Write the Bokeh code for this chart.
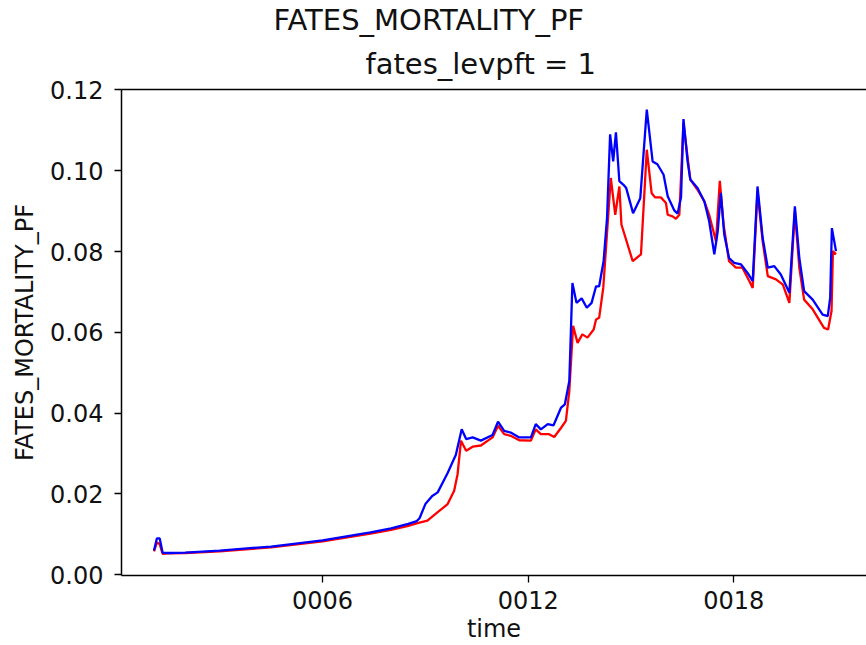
from bokeh.plotting import figure
from bokeh.models import Range1d, FixedTicker, LinearAxis, Title
from bokeh.embed import file_html
from bokeh.resources import INLINE

# time in model years (decimal), FATES_MORTALITY_PF for fates_levpft = 1
time_red = [1.083, 1.167, 1.25, 1.333, 1.5, 2.0, 3.0, 4.5, 6.0, 7.4, 8.0, 8.5, 8.77,
            9.06, 9.36, 9.65, 9.84, 9.94, 10.04, 10.19, 10.38, 10.62, 10.96, 11.12,
            11.3, 11.49, 11.74, 12.08, 12.22, 12.37, 12.61, 12.76, 12.96, 13.1, 13.2,
            13.31, 13.44, 13.58, 13.73, 13.91, 13.98, 14.07, 14.19, 14.41, 14.54,
            14.66, 14.72, 15.05, 15.29, 15.46, 15.6, 15.7, 15.87, 16.02, 16.07, 16.21,
            16.31, 16.41, 16.53, 16.73, 16.94, 17.14, 17.28, 17.48, 17.59, 17.7, 17.86,
            18.06, 18.25, 18.45, 18.55, 18.69, 18.84, 18.99, 19.23, 19.43, 19.62, 19.78,
            19.91, 20.05, 20.3, 20.63, 20.75, 20.85, 20.89, 20.98]
mort_red = [0.0058, 0.0080, 0.0076, 0.0052, 0.0053, 0.0054, 0.0058, 0.0068, 0.0083,
            0.0102, 0.0111, 0.0121, 0.0128, 0.0134, 0.0155, 0.0175, 0.0208, 0.0249,
            0.0332, 0.0307, 0.0317, 0.0320, 0.0340, 0.0369, 0.0348, 0.0344, 0.0333,
            0.0332, 0.0360, 0.0348, 0.0348, 0.0341, 0.0364, 0.0381, 0.0455, 0.0616,
            0.0574, 0.0595, 0.0587, 0.0607, 0.0632, 0.0636, 0.0710, 0.0982, 0.0891,
            0.0961, 0.0867, 0.0776, 0.0793, 0.1052, 0.0945, 0.0934, 0.0934, 0.0920,
            0.0891, 0.0887, 0.0881, 0.0891, 0.1118, 0.0978, 0.0953, 0.0924, 0.0891,
            0.0825, 0.0975, 0.0867, 0.0776, 0.0760, 0.0760, 0.0727, 0.0710, 0.0949,
            0.0825, 0.0739, 0.0731, 0.0718, 0.0673, 0.0900, 0.0760, 0.0681, 0.0657,
            0.0611, 0.0607, 0.0653, 0.0801, 0.0793]

time_blue = [1.083, 1.167, 1.25, 1.333, 1.5, 2.0, 3.0, 4.5, 6.0, 7.4, 8.0, 8.5, 8.75,
             8.83, 9.0, 9.2, 9.36, 9.65, 9.89, 10.06, 10.19, 10.38, 10.62, 10.96, 11.12,
             11.3, 11.49, 11.74, 12.08, 12.22, 12.37, 12.57, 12.74, 12.96, 13.07, 13.2,
             13.29, 13.41, 13.56, 13.71, 13.85, 13.98, 14.07, 14.2, 14.3, 14.39, 14.48,
             14.56, 14.66, 14.78, 14.86, 15.06, 15.27, 15.46, 15.63, 15.77, 15.95, 16.07,
             16.26, 16.36, 16.46, 16.53, 16.65, 16.73, 16.94, 17.14, 17.28, 17.43, 17.53,
             17.62, 17.72, 17.86, 18.01, 18.21, 18.4, 18.55, 18.69, 18.84, 18.99, 19.18,
             19.37, 19.62, 19.78, 19.91, 20.05, 20.3, 20.59, 20.74, 20.81, 20.86, 20.98]
mort_blue = [0.0060, 0.0090, 0.0090, 0.0055, 0.0054, 0.0055, 0.0060, 0.0070, 0.0085,
             0.0105, 0.0115, 0.0126, 0.0133, 0.0140, 0.0175, 0.0195, 0.0204, 0.0252,
             0.0297, 0.0360, 0.0336, 0.0340, 0.0332, 0.0346, 0.0379, 0.0356, 0.0352,
             0.0340, 0.0340, 0.0373, 0.0360, 0.0373, 0.0370, 0.0414, 0.0422, 0.0480,
             0.0722, 0.0673, 0.0684, 0.0661, 0.0673, 0.0714, 0.0714, 0.0776, 0.0883,
             0.1090, 0.1023, 0.1095, 0.0974, 0.0965, 0.0957, 0.0895, 0.0932, 0.1151,
             0.1023, 0.1016, 0.0990, 0.0937, 0.0902, 0.0894, 0.0935, 0.1128, 0.1023,
             0.0978, 0.0957, 0.0924, 0.0875, 0.0793, 0.0850, 0.0945, 0.0842, 0.0784,
             0.0772, 0.0768, 0.0747, 0.0727, 0.0961, 0.0834, 0.0760, 0.0764, 0.0743,
             0.0698, 0.0912, 0.0784, 0.0702, 0.0681, 0.0644, 0.0640, 0.0685, 0.0858,
             0.0801]

x_ticks = [6, 12, 18]
x_tick_labels = ["0006", "0012", "0018"]
y_ticks = [0.0, 0.02, 0.04, 0.06, 0.08, 0.10, 0.12]
y_tick_labels = ["0.00", "0.02", "0.04", "0.06", "0.08", "0.10", "0.12"]

FONT = "DejaVu Sans"
TXT = "#111111"

p = figure(width=866, height=645, output_backend="svg", toolbar_location=None,
           x_range=Range1d(0.135, 21.87), y_range=Range1d(-0.00017, 0.1201),
           min_border_left=121, min_border_right=0, min_border_top=0,
           min_border_bottom=70, x_axis_label="time",
           y_axis_label="FATES_MORTALITY_PF")
p.outline_line_color = None
p.grid.visible = False
p.background_fill_color = "white"
p.border_fill_color = "white"

p.line(time_red, mort_red, line_color="#ff0000", line_width=2.3)
p.line(time_blue, mort_blue, line_color="#0000ff", line_width=2.3)

for ax, ticks, labels in ((p.xaxis[0], x_ticks, x_tick_labels),
                          (p.yaxis[0], y_ticks, y_tick_labels)):
    ax.ticker = FixedTicker(ticks=ticks)
    ax.major_label_overrides = {t: l for t, l in zip(ticks, labels)}
    ax.minor_tick_line_color = None
    ax.major_tick_out = 7
    ax.major_tick_in = 0
    ax.major_tick_line_width = 1.3
    ax.axis_line_width = 1.5
    ax.axis_line_color = "black"
    ax.major_label_text_font = FONT
    ax.major_label_text_font_size = "24px"
    ax.major_label_text_color = TXT
    ax.axis_label_text_font = FONT
    ax.axis_label_text_font_size = "24px"
    ax.axis_label_text_font_style = "normal"
    ax.axis_label_text_color = TXT

p.xaxis[0].major_label_standoff = 8
p.xaxis[0].axis_label_standoff = 3
p.yaxis[0].major_label_standoff = 11
p.yaxis[0].axis_label_standoff = 8

top = LinearAxis(ticker=FixedTicker(ticks=[]), major_tick_out=0, major_tick_in=0,
                 minor_tick_out=0, minor_tick_in=0, axis_line_width=1.5,
                 axis_line_color="black", major_label_text_font_size="0px")
p.add_layout(top, "above")

sub = Title(text="fates_levpft = 1", align="left", offset=244, text_font=FONT,
            text_font_size="29px", text_font_style="normal", text_color=TXT,
            standoff=17)
p.add_layout(sub, "above")
main = Title(text="FATES_MORTALITY_PF", align="left", offset=152, text_font=FONT,
             text_font_size="29px", text_font_style="normal", text_color=TXT,
             standoff=0)
p.add_layout(main, "above")

open("out.html", "w").write(file_html(p, INLINE))
